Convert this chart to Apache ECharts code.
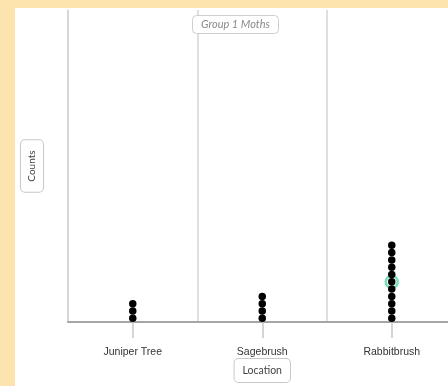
<!DOCTYPE html>
<html><head><meta charset="utf-8">
<script src="https://cdn.jsdelivr.net/npm/echarts@6/dist/echarts.min.js"></script>
<style>html,body{margin:0;padding:0;background:#fde4ae}#c{width:448px;height:386px}</style>
</head><body><div id="c"></div>
<script>
const categories = ['Juniper Tree', 'Sagebrush', 'Rabbitbrush'];
const counts = [3, 4, 11];
const highlightCategory = 2;
const highlightIndex = 5;
const titleText = 'Group 1 Moths';
const xName = 'Location';
const yName = 'Counts';

const dots = [];
counts.forEach((n, ci) => { for (let k = 0; k < n; k++) dots.push([ci, k + 0.5]); });
const hl = [[highlightCategory, highlightIndex + 0.5]];

const chart = echarts.init(document.getElementById('c'));
chart.setOption({
  backgroundColor: '#fde4ae',
  animation: false,
  graphic: [{ type: 'rect', z: -10, shape: { x: 15, y: 8, width: 440, height: 380 }, style: { fill: '#ffffff' }, silent: true }],
  title: {
    text: titleText, left: 192, top: 15, padding: [4, 9, 4, 9],
    borderColor: '#cfcfcf', borderWidth: 1, borderRadius: 4, backgroundColor: '#fff',
    textStyle: { fontFamily: 'Lato', fontStyle: 'italic', fontWeight: 'normal', fontSize: 11, color: '#8a8a8a' }
  },
  grid: { left: 68, top: 10, width: 388.5, height: 312, outerBoundsMode: 'none', containLabel: false },
  xAxis: {
    type: 'category', data: categories, boundaryGap: true,
    name: xName, nameLocation: 'middle', nameGap: 37, nameMoveOverlap: false,
    nameTextStyle: { fontFamily: 'Lato', fontSize: 10.5, color: '#444', borderColor: '#c8c8c8', borderWidth: 1, borderRadius: 4, padding: [6, 8, 6, 8], backgroundColor: '#fff' },
    axisLine: { show: true, lineStyle: { color: '#a5a5a5', width: 2 } },
    axisTick: { show: true, alignWithLabel: true, inside: false, length: 16, lineStyle: { color: '#c8c8c8', width: 1.5 } },
    axisLabel: { margin: 25, fontFamily: 'Liberation Sans', fontSize: 10.5, color: '#333' },
    splitLine: { show: true, lineStyle: { color: '#d4d4d4', width: 1.5 } }
  },
  yAxis: {
    type: 'value', min: 0, max: 42.7,
    name: yName, nameLocation: 'middle', nameGap: 25, nameRotate: 90,
    nameTextStyle: { fontFamily: 'Lato', fontSize: 10, color: '#444', borderColor: '#c8c8c8', borderWidth: 1, borderRadius: 4, padding: [6, 10, 6, 10], backgroundColor: '#fff' },
    axisLine: { show: true, lineStyle: { color: '#d4d4d4', width: 1.5 } },
    axisTick: { show: false }, axisLabel: { show: false }, splitLine: { show: false }
  },
  series: [
    { type: 'scatter', data: hl, symbol: 'circle', symbolSize: 12, itemStyle: { color: 'rgba(0,0,0,0)', borderColor: '#6bdcae', borderWidth: 2.5, opacity: 0.9 }, z: 2 },
    { type: 'scatter', data: dots, symbol: 'circle', symbolSize: 7.5, itemStyle: { color: '#000', opacity: 1 }, z: 3 }
  ]
});
</script></body></html>
